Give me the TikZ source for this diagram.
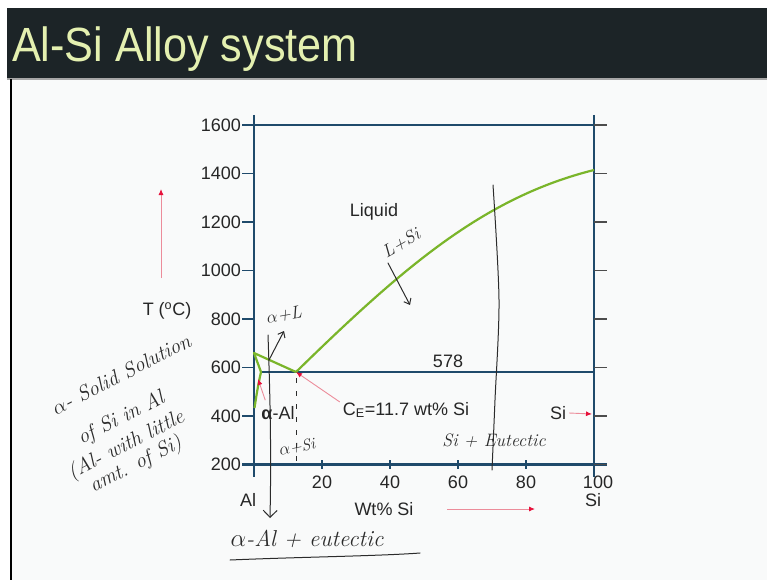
\documentclass[tikz,border=0pt]{standalone}
\usepackage{fontspec}
\setsansfont{Liberation Sans}
\usetikzlibrary{arrows.meta}
\definecolor{titlebg}{HTML}{1C2427}
\definecolor{titlefg}{HTML}{E4F0B0}
\definecolor{axisblue}{HTML}{1F4A6B}
\definecolor{liqgreen}{HTML}{7AB52A}
\definecolor{pagebg}{HTML}{F9FAFA}
\definecolor{penred}{HTML}{E7103A}
\definecolor{penpink}{HTML}{EC8C9A}
\definecolor{pencil}{HTML}{2B2B2B}
\begin{document}
\begin{tikzpicture}[x=1pt,y=-1pt,
  lbl/.style={font=\sffamily\fontsize{18}{20}\selectfont,text=black!85,inner sep=0pt},
  hand/.style={font=\rmfamily\itshape\fontsize{#1}{#1}\selectfont,text=pencil,inner sep=0pt},
  hand/.default=18,
  redarrow/.style={penpink,line width=0.9pt,-{Latex[length=6pt,width=5pt,color=penred]}},
  pen/.style={pencil,line width=1pt,line cap=round},
  barb/.style={pen,-{Straight Barb[length=5pt,width=8pt]}}]
\useasboundingbox (0,0) rectangle (767,580);
\fill[white] (0,0) rectangle (767,580);
\fill[pagebg] (11,79) rectangle (767,580);
\fill[titlebg] (7,8) rectangle (767,78);
\draw[gray!70,line width=1.5pt] (7,79) -- (767,79);
\draw[black,line width=2pt] (11,79) -- (11,580);
\node[anchor=base west,text=titlefg,font=\sffamily\fontsize{48}{48}\selectfont,xscale=0.9,inner sep=0pt] (title) at (12,62) {Al-Si Alloy system};

\draw[axisblue,line width=2.2pt] (242,125) -- (607,125);
\draw[axisblue,line width=2.2pt] (242,464.5) -- (607,464.5);
\draw[axisblue,line width=2.2pt] (254,115) -- (254,477);
\draw[axisblue,line width=2.2pt] (594,115) -- (594,477);
\foreach \t in {200,400,...,1600} {
  \pgfmathsetmacro\yy{513-0.2425*\t}
  \draw[axisblue,line width=1.2pt] (242,\yy) -- (254,\yy);
  \draw[black!70,line width=1.2pt] (594,\yy) -- (607,\yy);
  \node[lbl,anchor=east] (ty\t) at (241,\yy) {\t};
}
\foreach \w in {20,40,60,80} {
  \pgfmathsetmacro\xx{254+3.4*\w}
  \draw[axisblue,line width=1.2pt] (\xx,460) -- (\xx,469);
  \node[lbl] (tx\w) at (\xx,482) {\w};
}
\node[lbl] (hundred) at (598,482) {100};
\node[lbl] (si) at (593,500) {Si};
\node[lbl] (al) at (248,500) {Al};
\node[lbl] (wt) at (384,509) {Wt\% Si};
\node[lbl] (temp) at (167,311) {T (\textsuperscript{o}C)};

\coordinate (alm) at (254,353);
\coordinate (eut) at (296,372);
\coordinate (sol) at (261,372);
\coordinate (sim) at (594,170);
\draw[axisblue,line width=2.2pt] (sol) -- (594,372);
\draw[liqgreen,line width=2.2pt,line join=round] (eut) .. controls (404,266.5) and (484,197.5) .. (sim);
\draw[liqgreen,line width=2.2pt,line join=round] (eut) -- (alm) -- (sol) .. controls (258,385) and (256,398) .. (254.5,408);
\draw[pencil,line width=1pt,dash pattern=on 5pt off 8pt] (296,378) -- (296,464);

\node[lbl] (liquid) at (374,212) {Liquid};
\node[lbl] (eutT) at (448,361) {578};
\node[lbl] (ce) at (406,410) {C\textsubscript{E}=11.7 wt\% Si};
\node[lbl] (sisym) at (558,413) {Si};
\node[lbl] (alpha) at (278,413) {\textbf{α}-Al};

\coordinate (sitick) at (592,414);
\coordinate (solv) at (258,379);
\coordinate (tlow) at (161,278);
\coordinate (thigh) at (161,189);
\coordinate (wlow) at (447,509);
\coordinate (whigh) at (535,509);
\draw[redarrow] ([xshift=-3pt]ce.north west) -- (eut);
\draw[redarrow] ([xshift=3pt]sisym.east) -- (sitick);
\draw[redarrow] ([xshift=4pt,yshift=6pt]alpha.north west) -- (solv);
\draw[redarrow] (tlow) -- (thigh);
\draw[redarrow] (wlow) -- (whigh);

\node[hand=18,rotate=10] (aL) at (284,315) {$\alpha$+L};
\coordinate (aLtail) at (269,360);
\coordinate (aLtip) at (284,331);
\draw[barb] (aLtail) -- (aLtip);
\coordinate (hyptop) at (268,335);
\coordinate (hypend) at (270,518);
\draw[pen,-{Straight Barb[length=7pt,width=14pt]}] (hyptop) .. controls (271,420) and (271,470) .. (hypend);
\node[hand=18,rotate=30] (LSi) at (401,243) {L+Si};
\coordinate (LSitail) at (388,263);
\coordinate (LSitip) at (410,305);
\draw[barb] (LSitail) -- (LSitip);
\node[hand=16,rotate=12] (aSi) at (297,447) {$\alpha$+Si};
\draw[pen] plot[smooth] coordinates {(493,185) (499,300) (495,400) (492,470)};
\node[hand=18] (sieut) at (494,441) {Si + Eutectic};
\node[hand=23] (hypeut) at (307,539) {$\alpha$-Al + eutectic};
\draw[pen] (230,560) .. controls (300,557) and (380,556) .. (420,553);

\node[hand=21,rotate=27,align=left,font=\rmfamily\itshape\fontsize{21}{26}\selectfont] (ssol) at (135,418)
  {\hspace*{15pt}$\alpha$- Solid Solution\\[12pt]\hspace*{24pt}of Si in Al\\(Al- with little\\[-4pt]\hspace*{13pt}amt. of Si)};
\end{tikzpicture}
\end{document}
